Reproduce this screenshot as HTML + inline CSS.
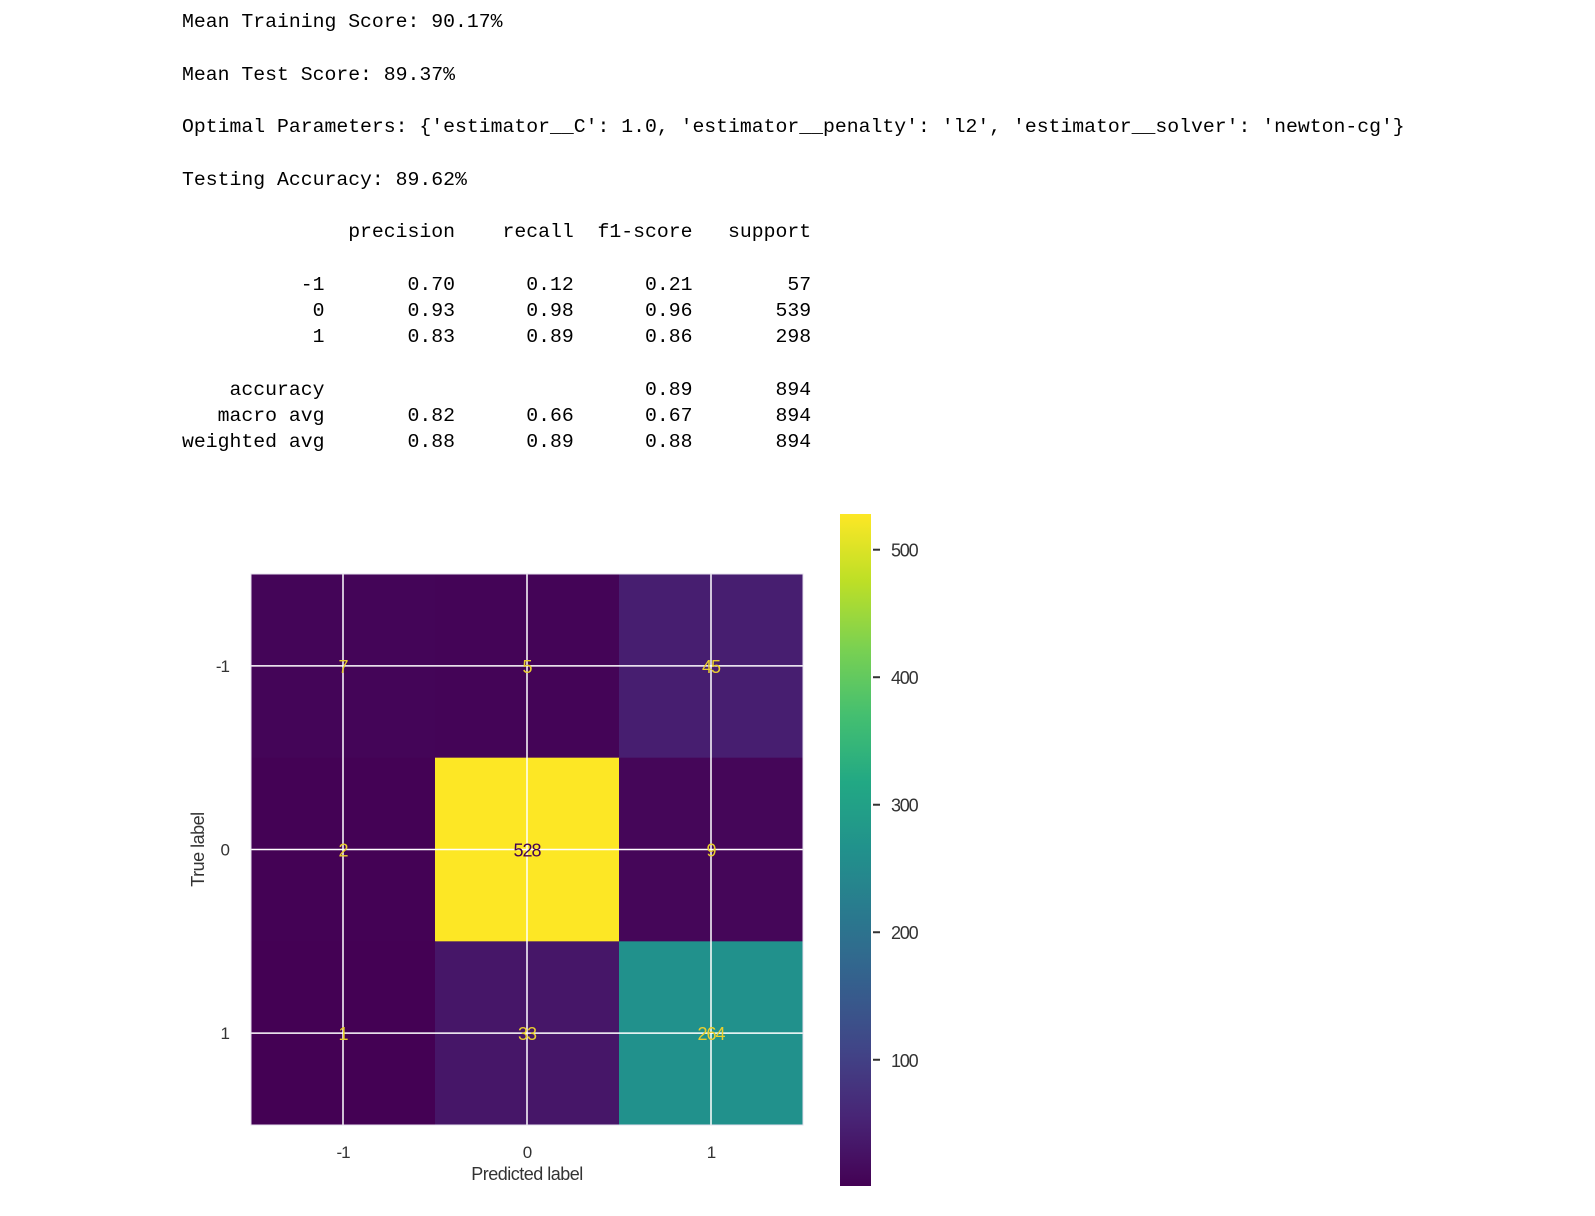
<!DOCTYPE html>
<html><head><meta charset="utf-8"><style>
html,body{margin:0;padding:0;background:#fff;width:1595px;height:1216px;overflow:hidden}
pre{position:absolute;left:182px;top:9px;margin:0;font-family:"Liberation Mono",monospace;font-size:19.8px;line-height:26.25px;color:#000}
svg{position:absolute;left:0;top:0}
</style></head><body>
<pre>Mean Training Score: 90.17%

Mean Test Score: 89.37%

Optimal Parameters: {'estimator__C': 1.0, 'estimator__penalty': 'l2', 'estimator__solver': 'newton-cg'}

Testing Accuracy: 89.62%

              precision    recall  f1-score   support

          -1       0.70      0.12      0.21        57
           0       0.93      0.98      0.96       539
           1       0.83      0.89      0.86       298

    accuracy                           0.89       894
   macro avg       0.82      0.66      0.67       894
weighted avg       0.88      0.89      0.88       894</pre>
<svg id="chart" width="1595" height="1216" font-family="Liberation Sans, sans-serif"></svg>
<script>
const labels = ["-1","0","1"];
const matrix = [[7,5,45],[2,528,9],[1,33,264]];
const cbTicks = [100,200,300,400,500];
const vmin = 1, vmax = 528;

const NS="http://www.w3.org/2000/svg";
const svg=document.getElementById('chart');
const V=[[68,1,84],[72,36,117],[65,68,135],[53,95,141],[42,120,142],[33,145,140],[34,168,132],[68,191,112],[122,209,81],[189,223,38],[253,231,37]];
function viridis(t){t=Math.max(0,Math.min(1,t));const s=t*(V.length-1);const i=Math.min(V.length-2,Math.floor(s));const f=s-i;
 const c=V[i].map((v,k)=>Math.round(v+(V[i+1][k]-v)*f));return `rgb(${c[0]},${c[1]},${c[2]})`;}
function el(tag,a,p){const e=document.createElementNS(NS,tag);for(const k in a)e.setAttribute(k,a[k]);(p||svg).appendChild(e);return e;}
const X0=251,X1=803,Y0=574,Y1=1125;
const cw=(X1-X0)/labels.length, ch=(Y1-Y0)/labels.length;
const xc=i=>X0+cw*(i+0.5), yc=i=>Y0+ch*(i+0.5);
matrix.forEach((row,r)=>row.forEach((v,c)=>{
 const rc=el('rect',{x:X0+c*cw,y:Y0+r*ch,width:cw+0.5,height:ch+0.5,fill:viridis((v-vmin)/(vmax-vmin))});
 
 
}));
labels.forEach((l,i)=>{
 const g1=el('line',{x1:xc(i),x2:xc(i),y1:Y0,y2:Y1,stroke:'#fff','stroke-width':1.5});
  
 const g2=el('line',{x1:X0,x2:X1,y1:yc(i),y2:yc(i),stroke:'#fff','stroke-width':1.5});
  
});
el('rect',{x:X0,y:Y0,width:X1-X0,height:Y1-Y0,fill:'none',stroke:'#e6e0ee','stroke-width':1});
matrix.forEach((row,r)=>row.forEach((v,c)=>{
 const t=el('text',{x:xc(c),y:yc(r)+7,'text-anchor':'middle','font-size':18,'letter-spacing':-1,fill:(v-vmin)/(vmax-vmin)>0.5?'#440154':'#e9cf2e'});
 t.textContent=v;
  
}));
labels.forEach((l,i)=>{
 const tx=el('text',{x:xc(i),y:1158,'text-anchor':'middle','font-size':17,'letter-spacing':-1,fill:'#333'});tx.textContent=l;
  
 const ty=el('text',{x:229,y:yc(i)+6,'text-anchor':'end','font-size':17,'letter-spacing':-1,fill:'#333'});ty.textContent=l;
  
});
const xl=el('text',{x:(X0+X1)/2,y:1180,'text-anchor':'middle','font-size':18,'letter-spacing':-0.5,fill:'#333'});xl.textContent='Predicted label';
 
const yl=el('text',{x:0,y:0,'text-anchor':'middle','font-size':18,'letter-spacing':-0.5,fill:'#333',transform:`translate(204,${(Y0+Y1)/2}) rotate(-90)`});yl.textContent='True label';
 
const CX=840,CW=31,CY0=514,CY1=1186;
const defs=el('defs',{});
const lg=el('linearGradient',{id:'vg',x1:0,y1:1,x2:0,y2:0},defs);
for(let i=0;i<=20;i++) el('stop',{offset:i/20,'stop-color':viridis(i/20)},lg);
const cb=el('rect',{x:CX,y:CY0,width:CW,height:CY1-CY0,fill:'url(#vg)'});
 
const cy=v=>CY1-(v-vmin)/(vmax-vmin)*(CY1-CY0);
cbTicks.forEach(v=>{
 const tk=el('line',{x1:CX+CW+2,x2:CX+CW+9,y1:cy(v),y2:cy(v),stroke:'#333','stroke-width':2});
  
 const tl=el('text',{x:CX+CW+20,y:cy(v)+7,'font-size':18,'letter-spacing':-1.2,fill:'#333'});tl.textContent=v;
  
});
</script>
</body></html>
